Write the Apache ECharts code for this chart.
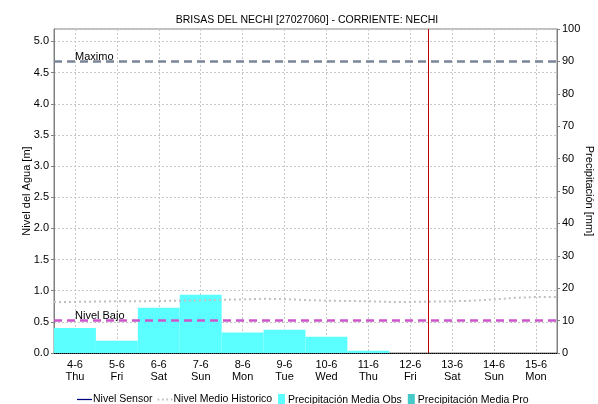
<!DOCTYPE html>
<html><head><meta charset="utf-8">
<script src="https://cdn.jsdelivr.net/npm/echarts@6/dist/echarts.min.js"></script>
<style>html,body{margin:0;padding:0;background:#fff}#c{width:598px;height:404px}</style>
</head><body><div id="c"></div>
<script>
const titleText = 'BRISAS DEL NECHI [27027060] - CORRIENTE: NECHI';
const categories = ['4-6','5-6','6-6','7-6','8-6','9-6','10-6','11-6','12-6','13-6','14-6','15-6'];
const weekdays = ['Thu','Fri','Sat','Sun','Mon','Tue','Wed','Thu','Fri','Sat','Sun','Mon'];
const precipObs = [7.7, 3.8, 14.0, 18.0, 6.3, 7.2, 5.0, 0.7, null, null, null, null];
const precipPro = [null, null, null, null, null, null, null, null, null, null, null, null];
const sensorLevel = [];
const histHours = [0,12,24,36,48,60,72,84,96,108,120,132,144,156,168,180,192,204,216,228,240,252,264,276,288];
const histLevel = [0.82,0.82,0.825,0.83,0.83,0.835,0.84,0.845,0.855,0.86,0.87,0.865,0.85,0.84,0.835,0.83,0.82,0.82,0.825,0.83,0.84,0.86,0.885,0.9,0.9];
const nivelMaximo = 4.68;
const nivelBajo = 0.52;
const nowHour = 214;
const levelMax = 5.2, levelInterval = 0.5;
const precipMax = 100, precipInterval = 10;
const totalHours = 288;

const font = 'Liberation Sans, Arial, sans-serif';
const chart = echarts.init(document.getElementById('c'), null, {renderer: 'canvas'});
chart.setOption({
  animation: false,
  backgroundColor: '#ffffff',
  textStyle: {fontFamily: font, color: '#000'},
  title: {text: titleText, left: 302, top: 10, textAlign: 'center',
    textStyle: {fontSize: 10.5, fontWeight: 'normal', color: '#000', fontFamily: font}},
  grid: {left: 54, right: 41, top: 29, bottom: 51, show: true, borderColor: '#808080', borderWidth: 1,
    outerBoundsMode: 'none', containLabel: false},
  legend: [
    {left: 77, top: 394, padding: 0, itemGap: 5, itemWidth: 15, itemHeight: 12,
      textStyle: {fontSize: 10.5, color: '#000', fontFamily: font, padding: [0, 0, 0, -4]},
      data: [
        {name: 'Nivel Sensor', icon: 'path://M0,0h18v1.5h-18z'},
        {name: 'Nivel Medio Historico', icon: 'path://M0,0h2v2h-2zM5,0h2v2h-2zM10,0h2v2h-2zM15,0h2v2h-2z'}
      ]},
    {left: 278, top: 394, padding: 0, itemGap: 6, itemWidth: 7, itemHeight: 12,
      textStyle: {fontSize: 10.5, color: '#000', fontFamily: font, padding: [0, 0, 0, -2]},
      data: [
        {name: 'Precipitación Media Obs', icon: 'rect'},
        {name: 'Precipitación Media Pro', icon: 'rect'}
      ]}
  ],
  xAxis: [
    {type: 'category', data: categories, boundaryGap: true,
      axisLine: {show: true, lineStyle: {color: '#000', type: [1,1], width: 1}},
      axisTick: {show: false},
      splitLine: {show: true, alignWithLabel: true, interval: 0, lineStyle: {color: '#c8c8c8', type: [2,2], width: 1}},
      axisLabel: {fontSize: 11, color: '#000', lineHeight: 12, margin: 6, interval: 0,
        formatter: (v, i) => v + '\n' + weekdays[i]}},
    {type: 'value', min: 0, max: totalHours, show: false}
  ],
  yAxis: [
    {type: 'value', min: 0, max: levelMax, interval: levelInterval, position: 'left',
      name: 'Nivel del Agua [m]', nameLocation: 'middle', nameGap: 22, nameMoveOverlap: false,
      nameTextStyle: {fontSize: 11, color: '#000'},
      axisLine: {show: true, lineStyle: {color: '#808080'}},
      axisTick: {show: true, length: 3, lineStyle: {color: '#808080'}},
      axisLabel: {fontSize: 11, color: '#000', margin: 5, showMaxLabel: false,
        formatter: v => (Math.abs(v / levelInterval - Math.round(v / levelInterval)) < 1e-6) ? v.toFixed(1) : ''},
      splitLine: {show: true, lineStyle: {color: '#c8c8c8', type: [2,2]}}},
    {type: 'value', min: 0, max: precipMax, interval: precipInterval, position: 'right',
      name: 'Precipitación [mm]', nameLocation: 'middle', nameGap: 27, nameRotate: -90, nameMoveOverlap: false,
      nameTextStyle: {fontSize: 11, color: '#000'},
      axisLine: {show: true, lineStyle: {color: '#808080'}},
      axisTick: {show: true, length: 3, lineStyle: {color: '#808080'}},
      axisLabel: {fontSize: 11, color: '#000', margin: 5},
      splitLine: {show: false}}
  ],
  series: [
    {name: 'Nivel Sensor', type: 'line', xAxisIndex: 0, yAxisIndex: 0, data: sensorLevel,
      symbol: 'none', color: '#000080', lineStyle: {color: '#000080', width: 1.5}, z: 1},
    {name: 'Precipitación Media Pro', type: 'bar', xAxisIndex: 0, yAxisIndex: 1, data: precipPro,
      barWidth: '100%', barGap: '-100%', color: '#44c8c8', itemStyle: {color: '#44c8c8'}, z: 2},
    {name: 'Precipitación Media Obs', type: 'bar', xAxisIndex: 0, yAxisIndex: 1, data: precipObs,
      barWidth: '100%', barGap: '-100%', color: '#5cffff', itemStyle: {color: '#5cffff'}, z: 3},
    {name: 'Nivel Medio Historico', type: 'line', xAxisIndex: 1, yAxisIndex: 0,
      data: histHours.map((h, i) => [h, histLevel[i]]),
      symbol: 'none', color: '#c0c0c0', lineStyle: {color: '#c0c0c0', width: 2, type: [2,3]}, z: 4,
      markLine: {silent: true, symbol: 'none',
        data: [
          {yAxis: nivelMaximo, lineStyle: {color: '#7a8599', width: 2.5, type: [8,5]},
            label: {show: true, formatter: 'Maximo', position: 'insideStartTop', color: '#000', fontSize: 11, distance: [21, -1]}},
          {yAxis: nivelBajo, lineStyle: {color: '#cc55cc', width: 2.5, type: [8,5]},
            label: {show: true, formatter: 'Nivel Bajo', position: 'insideStartTop', color: '#000', fontSize: 11, distance: [21, -1]}},
          {xAxis: nowHour, lineStyle: {color: '#c00000', width: 1, type: 'solid'}, label: {show: false}}
        ]}}
  ]
});
</script></body></html>
